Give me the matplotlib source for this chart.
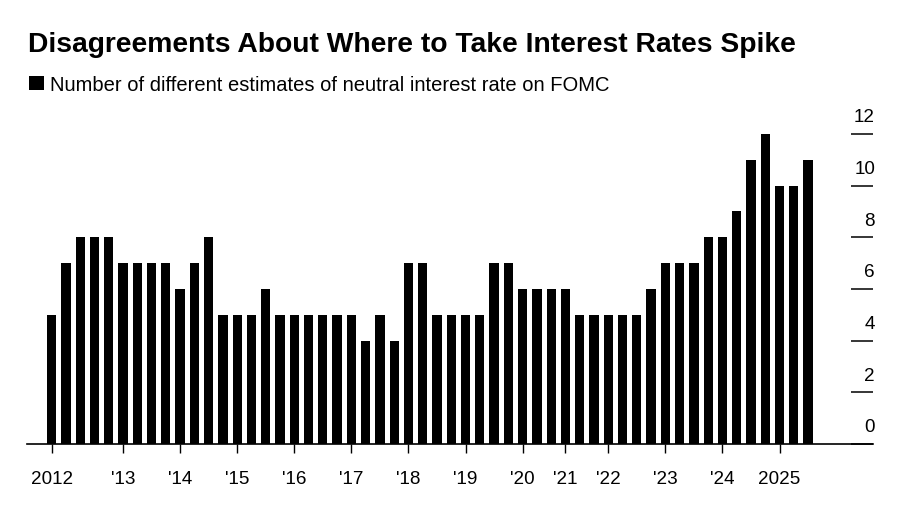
import matplotlib
matplotlib.use("Agg")
import matplotlib.pyplot as plt
import matplotlib.transforms as mtransforms
from matplotlib import font_manager
import numpy as np

# ---- data ----
years = [2012, 2013, 2014, 2015, 2016, 2017, 2018, 2019, 2020, 2021, 2022, 2023, 2024, 2025]
meetings_per_year = [5, 4, 4, 4, 4, 4, 4, 4, 3, 3, 4, 4, 4, 3]
year_labels = ["2012", "'13", "'14", "'15", "'16", "'17", "'18", "'19",
               "'20", "'21", "'22", "'23", "'24", "2025"]
estimates = [5, 7, 8, 8, 8,
             7, 7, 7, 7,
             6, 7, 8, 5,
             5, 5, 6, 5,
             5, 5, 5, 5,
             5, 4, 5, 4,
             7, 7, 5, 5,
             5, 5, 7, 7,
             6, 6, 6,
             6, 5, 5,
             5, 5, 5, 6,
             7, 7, 7, 8,
             8, 9, 11, 12,
             10, 10, 11]
y_ticks = [0, 2, 4, 6, 8, 10, 12]
title = "Disagreements About Where to Take Interest Rates Spike"
series_label = "Number of different estimates of neutral interest rate on FOMC"

# ---- fonts ----
installed = {f.name for f in font_manager.fontManager.ttflist}
base_font = "Liberation Sans" if "Liberation Sans" in installed else "DejaVu Sans"
narrow = "Liberation Sans Narrow" in installed
title_font = "Liberation Sans Narrow" if narrow else base_font
title_size = 24.5 if narrow else 20.3
plt.rcParams["font.family"] = [base_font, "DejaVu Sans"]

INK = "#000000"

fig = plt.figure(figsize=(9, 5.1), dpi=100, facecolor="white")
W, H = 900, 510
ax = fig.add_axes([27 / W, 65 / H, (873 - 27) / W, (445 - 120) / H])
ax.set_facecolor("white")

x = np.arange(len(estimates))
ax.bar(x, estimates, width=0.65, color=INK, linewidth=0, label=series_label, zorder=2)

ax.set_xlim(-1.73, 57.55)
ax.set_ylim(0, 12.58)

# x ticks at the first meeting of each year
starts = np.concatenate([[0], np.cumsum(meetings_per_year)[:-1]])
ax.set_xticks(starts)
ax.set_xticklabels(year_labels)
ax.tick_params(axis="x", direction="out", length=6.5, width=1.0, color=INK,
               labelsize=13.6, labelcolor=INK, pad=12)

# y ticks: short lines on right, labels above the line
ax.yaxis.tick_right()
ax.set_yticks(y_ticks)
ax.tick_params(axis="y", direction="in", length=15.5, width=1.1, color=INK,
               labelright=False, labelleft=False)
offset = mtransforms.ScaledTranslation(1.5 / 72, 12.5 / 100, fig.dpi_scale_trans)
trans = mtransforms.blended_transform_factory(ax.transAxes, ax.transData) + offset
for v in y_ticks:
    ax.text(1.0, v, str(v), transform=trans, ha="right", va="baseline",
            fontsize=13.6, color=INK)

for s in ["top", "left", "right"]:
    ax.spines[s].set_visible(False)
ax.spines["bottom"].set_color(INK)
ax.spines["bottom"].set_linewidth(1.2)

# title and legend
fig.text(28 / W, 1 - 52 / H, title, fontsize=title_size, fontweight="bold",
         family=[title_font, "DejaVu Sans"], color=INK, ha="left", va="baseline")
leg = ax.legend(loc="upper left", bbox_to_anchor=(29 / W, 1 - 76 / H),
                bbox_transform=fig.transFigure, frameon=False, fontsize=14.5,
                handlelength=0.72, handleheight=0.72, handletextpad=0.3,
                borderpad=0, borderaxespad=0)
for t in leg.get_texts():
    t.set_color(INK)

fig.savefig("out.png", dpi=100, facecolor="white")
